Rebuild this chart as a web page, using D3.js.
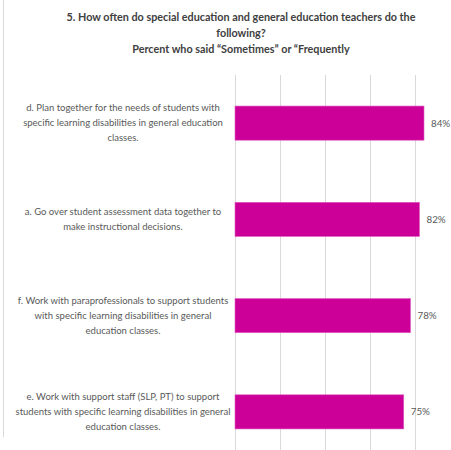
<!DOCTYPE html>
<html>
<head>
<meta charset="utf-8">
<script src="https://cdn.jsdelivr.net/npm/d3@7"></script>
<style>
  body { margin: 0; background: #fff; }
  text { font-family: Lato, "Open Sans", sans-serif; }
</style>
</head>
<body>
<div id="chart"></div>
<script>
var svgWidth = 451;
var svgHeight = 450;

var titleLines = [
  "5. How often do special education and general education teachers do the",
  "following?",
  "Percent who said \u201cSometimes\u201d or \u201cFrequently"
];

var categories = ["d", "a", "f", "e"];
var labelLines = [
  ["d. Plan together for the needs of students with", "specific learning disabilities in general education", "classes."],
  ["a. Go over student assessment data together to", "make instructional decisions."],
  ["f. Work with paraprofessionals to support students", "with specific learning disabilities in general", "education classes."],
  ["e. Work with support staff (SLP, PT) to support", "students with specific learning disabilities in general", "education classes."]
];
var values = [84, 82, 78, 75];
var gridTicks = [0, 20, 40, 60, 80, 100];

var svg = d3.select("#chart")
  .append("svg")
  .attr("width", svgWidth)
  .attr("height", svgHeight);

// thin frame line on the left
svg.append("line")
  .attr("x1", 3.5).attr("x2", 3.5)
  .attr("y1", 0).attr("y2", 437)
  .attr("stroke", "#d9d9d9");

var xScale = d3.scaleLinear()
  .domain([0, 100])
  .range([235, 460]);

var yScale = d3.scaleBand()
  .domain(categories)
  .range([75, 460])
  .paddingInner(0.645)
  .paddingOuter(0.3225);

// gridlines
svg.append("g")
  .selectAll("line")
  .data(gridTicks)
  .enter()
  .append("line")
  .attr("x1", d => xScale(d) + 0.5)
  .attr("x2", d => xScale(d) + 0.5)
  .attr("y1", 75)
  .attr("y2", 450)
  .attr("stroke", "#d9d9d9");

// title
svg.append("g")
  .selectAll("text")
  .data(titleLines)
  .enter()
  .append("text")
  .attr("x", 241)
  .attr("y", (d, i) => 21 + i * 16)
  .attr("text-anchor", "middle")
  .style("font-size", "10.8px")
  .style("font-weight", "bold")
  .style("fill", "#404040")
  .text(d => d);

// bars
svg.append("g")
  .selectAll("rect")
  .data(values)
  .enter()
  .append("rect")
  .attr("x", xScale(0))
  .attr("y", (d, i) => yScale(categories[i]))
  .attr("width", d => xScale(d) - xScale(0))
  .attr("height", yScale.bandwidth())
  .attr("fill", "#cc0099")
  .attr("stroke", "#e060c0")
  .attr("stroke-width", 0.6);

// value labels
svg.append("g")
  .selectAll("text")
  .data(values)
  .enter()
  .append("text")
  .attr("x", d => xScale(d) + 7)
  .attr("y", (d, i) => yScale(categories[i]) + yScale.bandwidth() / 2)
  .attr("dy", "0.35em")
  .style("font-size", "9.8px")
  .style("fill", "#595959")
  .text(d => d + "%");

// category labels
var labels = svg.append("g")
  .selectAll("text")
  .data(labelLines)
  .enter()
  .append("text")
  .attr("text-anchor", "middle")
  .style("font-size", "9.5px")
  .style("fill", "#595959");

labels.each(function (lines, i) {
  var cy = yScale(categories[i]) + yScale.bandwidth() / 2;
  var top = cy - (lines.length - 1) * 15 / 2;
  d3.select(this).selectAll("tspan")
    .data(lines)
    .enter()
    .append("tspan")
    .attr("x", 123)
    .attr("y", (d, j) => top + j * 15)
    .attr("dy", "0.35em")
    .text(d => d);
});
</script>
</body>
</html>
